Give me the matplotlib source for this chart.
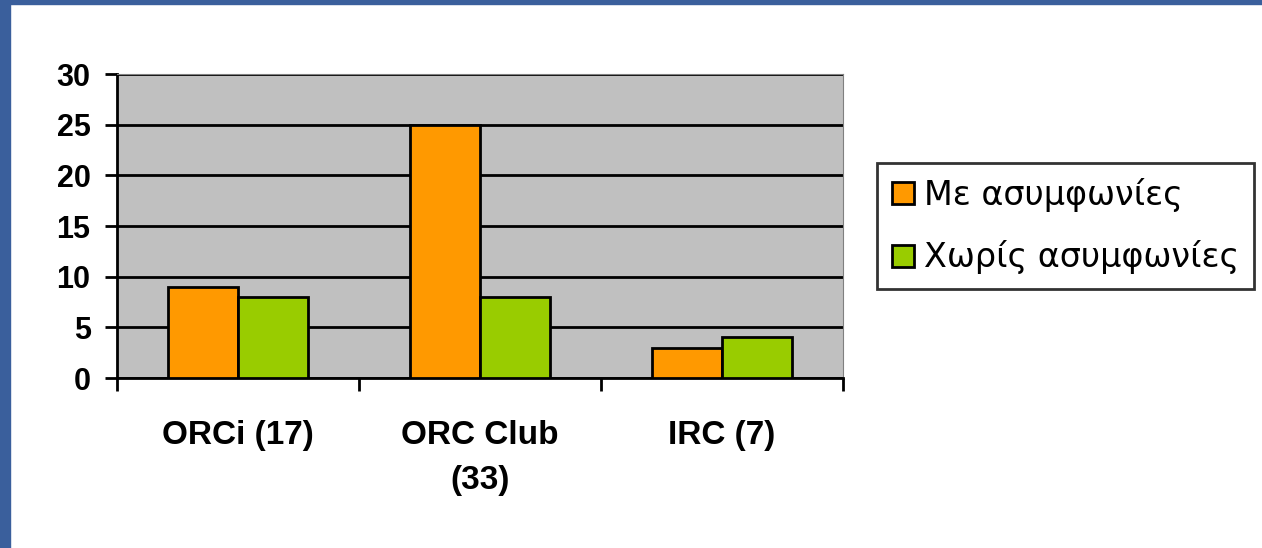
import matplotlib.pyplot as plt
from matplotlib.patches import Rectangle
import numpy as np

categories = ["ORCi (17)", "ORC Club\n(33)", "IRC (7)"]
with_disagreements = [9, 25, 3]
without_disagreements = [8, 8, 4]
series_names = ["Με ασυμφωνίες", "Χωρίς ασυμφωνίες"]

plt.rcParams['font.family'] = ['Liberation Sans', 'DejaVu Sans']

fig = plt.figure(figsize=(12.62, 5.48), dpi=100)
# slide border
fig.patches.append(Rectangle((0, 0), 10/1262, 1, transform=fig.transFigure, color="#3A5F9C", zorder=0))
fig.patches.append(Rectangle((0, 1 - 4/548), 1, 4/548, transform=fig.transFigure, color="#3A5F9C", zorder=0))

ax = fig.add_axes([117/1262, 1 - 378/548, 726/1262, 304/548])
ax.set_facecolor("#C0C0C0")

x = np.arange(len(categories))
w = 0.29
ax.bar(x - w/2, with_disagreements, w, color="#FF9900", edgecolor="black", linewidth=2, label=series_names[0], zorder=3)
ax.bar(x + w/2, without_disagreements, w, color="#99CC00", edgecolor="black", linewidth=2, label=series_names[1], zorder=3)

ax.set_xlim(-0.5, 2.5)
ax.set_ylim(0, 30)
ax.set_yticks(range(0, 31, 5))
ax.yaxis.grid(True, color="black", linewidth=2)
ax.set_axisbelow(True)

ax.set_xticks(x)
ax.set_xticklabels(categories, fontsize=24, fontweight="bold", linespacing=1.6)
ax.set_xticks([-0.5, 0.5, 1.5, 2.5], minor=True)
ax.tick_params(axis="x", which="major", length=0, pad=30)
ax.tick_params(axis="x", which="minor", length=9, width=2, direction="out")
ax.tick_params(axis="y", length=9, width=2, labelsize=22, pad=10)
for lbl in ax.get_yticklabels():
    lbl.set_fontweight("bold")

ax.spines["left"].set_linewidth(2)
ax.spines["bottom"].set_linewidth(2)
ax.spines["top"].set_color("#808080")
ax.spines["right"].set_color("#808080")

leg = fig.legend(loc="upper left", bbox_to_anchor=(877/1262, 1 - 163/548), borderaxespad=0,
                 prop={"family": "DejaVu Sans", "size": 24},
                 frameon=True, fancybox=False, edgecolor="black", handlelength=0.65, handleheight=0.65,
                 handletextpad=0.3, labelspacing=0.85, borderpad=0.45)
leg.get_frame().set_linewidth(2)

fig.savefig("out.png", dpi=100)
